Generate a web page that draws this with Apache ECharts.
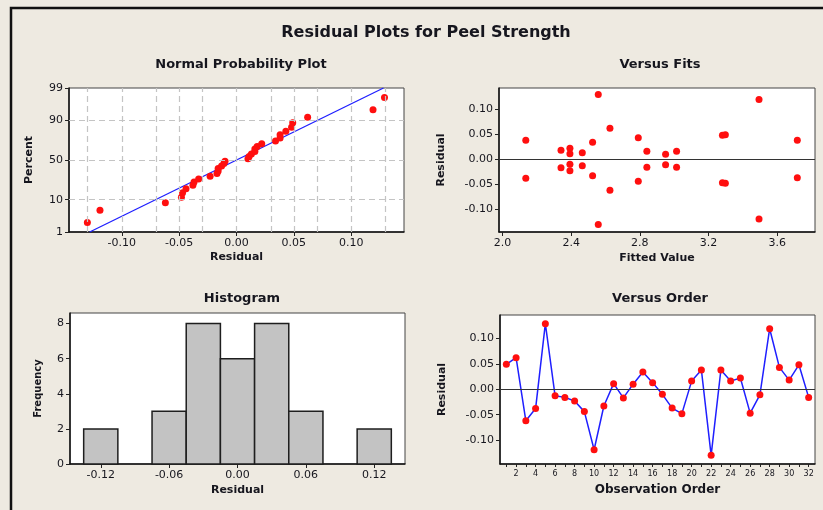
<!DOCTYPE html>
<html>
<head>
<meta charset="utf-8">
<title>Residual Plots for Peel Strength</title>
<script src="https://cdn.jsdelivr.net/npm/echarts@6.0.0/dist/echarts.min.js"></script>
<style>
  html, body { margin: 0; padding: 0; background: #eeeae1; }
  #chart { width: 823px; height: 510px; }
</style>
</head>
<body>
<div id="chart"></div>
<script>
const observations = [1, 2, 3, 4, 5, 6, 7, 8, 9, 10, 11, 12, 13, 14, 15, 16,
  17, 18, 19, 20, 21, 22, 23, 24, 25, 26, 27, 28, 29, 30, 31, 32]
const residuals = [0.049, 0.062, -0.062, -0.038, 0.129, -0.013, -0.016, -0.023,
  -0.044, -0.119, -0.033, 0.011, -0.017, 0.010, 0.034, 0.013,
  -0.010, -0.037, -0.048, 0.016, 0.038, -0.130, 0.038, 0.016,
  0.022, -0.047, -0.011, 0.119, 0.043, 0.018, 0.048, -0.016]
// fitted value of each observation (from the "Versus Fits" panel)
const fittedValues = [3.298, 2.626, 2.626, 2.136, 2.558, 2.465, 3.014, 2.393,
  2.791, 3.494, 2.525, 2.393, 2.341, 2.950, 2.525, 2.465,
  2.393, 3.717, 3.298, 2.841, 2.136, 2.558, 3.717, 3.014,
  2.393, 3.281, 2.950, 3.494, 2.791, 2.341, 3.281, 2.841]

// histogram bins
const histCenters = [-0.12, -0.09, -0.06, -0.03, 0.00, 0.03, 0.06, 0.09, 0.12]
const histCounts = [2, 0, 3, 8, 6, 8, 3, 0, 2]

// tick labels
const percentTicks = [1, 10, 50, 90, 99]
const residTicks = [-0.10, -0.05, 0.00, 0.05, 0.10]
const residGridLines = [-0.125, -0.10, -0.075, -0.05, -0.025, 0, 0.025, 0.05, 0.075, 0.10, 0.125]
const fitTicks = [2.0, 2.4, 2.8, 3.2, 3.6]
const histXTicks = [-0.12, -0.06, 0.00, 0.06, 0.12]
const orderTicks = [2, 4, 6, 8, 10, 12, 14, 16, 18, 20, 22, 24, 26, 28, 30, 32]

// inverse normal cdf (Acklam) for the probability scale
function probit(p) {
  const a = [-39.69683028665376, 220.9460984245205, -275.9285104469687, 138.3577518672690, -30.66479806614716, 2.506628277459239]
  const b = [-54.47609879822406, 161.5858368580409, -155.6989798598866, 66.80131188771972, -13.28068155833025]
  const c = [-0.007784894002430293, -0.3223964580411365, -2.400758277161838, -2.549732539343734, 4.374664141464968, 2.938163982698783]
  const d = [0.007784695709041462, 0.3224671290700398, 2.445134137142996, 3.754408661907416]
  const pl = 0.02425
  let q, r
  if (p < pl) {
    q = Math.sqrt(-2 * Math.log(p))
    return (((((c[0]*q+c[1])*q+c[2])*q+c[3])*q+c[4])*q+c[5]) / ((((d[0]*q+d[1])*q+d[2])*q+d[3])*q+1)
  }
  if (p > 1 - pl) {
    q = Math.sqrt(-2 * Math.log(1 - p))
    return -(((((c[0]*q+c[1])*q+c[2])*q+c[3])*q+c[4])*q+c[5]) / ((((d[0]*q+d[1])*q+d[2])*q+d[3])*q+1)
  }
  q = p - 0.5
  r = q * q
  return (((((a[0]*r+a[1])*r+a[2])*r+a[3])*r+a[4])*r+a[5])*q / (((((b[0]*r+b[1])*r+b[2])*r+b[3])*r+b[4])*r+1)
}

const n = residuals.length
const sorted = residuals.slice().sort((x, y) => x - y)
const probPoints = sorted.map((r, i) => [r, probit((i + 1 - 0.3) / (n + 0.4))])
const mean = residuals.reduce((s, v) => s + v, 0) / n
const sd = Math.sqrt(residuals.reduce((s, v) => s + (v - mean) ** 2, 0) / (n - 1))
const zTicks = percentTicks.map(p => probit(p / 100))
const zMin = zTicks[0], zMax = zTicks[zTicks.length - 1]
const fitLine = [[mean + sd * zMin, zMin], [mean + sd * zMax, zMax]]
const binWidth = histCenters[1] - histCenters[0]

const FONT = 'DejaVu Sans'
const TXT = '#16161e'

function axisBase(extra) {
  return Object.assign({
    type: 'value',
    nameLocation: 'middle',
    nameTextStyle: { fontFamily: FONT, fontWeight: 'bold', fontSize: 11, color: TXT },
    axisLine: { show: true, onZero: false, lineStyle: { color: '#111', width: 1.5 } },
    axisTick: { show: true, inside: false, length: 4, lineStyle: { color: '#222' } },
    axisLabel: { fontFamily: FONT, fontSize: 11, color: TXT, margin: 6 },
    splitLine: { show: false }
  }, extra)
}

function ticksOf(values, fmt, extraLabel) {
  return {
    axisTick: { show: true, inside: false, length: 4, customValues: values, lineStyle: { color: '#222' } },
    axisLabel: Object.assign({ fontFamily: FONT, fontSize: 11, color: TXT, margin: 6,
      customValues: values, formatter: fmt }, extraLabel || {})
  }
}

const myChart = echarts.init(document.getElementById('chart'))

const gridStyle = { show: true, backgroundColor: '#ffffff', borderColor: '#444', borderWidth: 1 }
const dashed = { color: '#c4c4c4', type: [6, 4], width: 1.2 }
const redDot = { color: '#ff0f0f', opacity: 1 }

const option = {
  backgroundColor: '#eeeae1',
  animation: false,
  title: [
    { text: 'Residual Plots for Peel Strength', left: 421, top: 20, textAlign: 'center',
      textStyle: { fontFamily: FONT, fontSize: 16, fontWeight: 'bold', color: TXT } },
    { text: 'Normal Probability Plot', left: 236, top: 53, textAlign: 'center',
      textStyle: { fontFamily: FONT, fontSize: 13, fontWeight: 'bold', color: TXT } },
    { text: 'Versus Fits', left: 655, top: 53, textAlign: 'center',
      textStyle: { fontFamily: FONT, fontSize: 13, fontWeight: 'bold', color: TXT } },
    { text: 'Histogram', left: 237, top: 287, textAlign: 'center',
      textStyle: { fontFamily: FONT, fontSize: 13, fontWeight: 'bold', color: TXT } },
    { text: 'Versus Order', left: 655, top: 287, textAlign: 'center',
      textStyle: { fontFamily: FONT, fontSize: 13, fontWeight: 'bold', color: TXT } }
  ],
  graphic: [
    { type: 'rect', shape: { x: 11, y: 8, width: 900, height: 600 },
      style: { fill: 'none', stroke: '#111', lineWidth: 2.5 }, z: 100 }
  ],
  grid: [
    Object.assign({ left: 69, top: 88, width: 335, height: 144 }, gridStyle),
    Object.assign({ left: 499, top: 88, width: 316, height: 144 }, gridStyle),
    Object.assign({ left: 70, top: 313, width: 335, height: 151 }, gridStyle),
    Object.assign({ left: 500, top: 315, width: 315, height: 149 }, gridStyle)
  ],
  xAxis: [
    axisBase(Object.assign({ gridIndex: 0, min: -0.146, max: 0.146, name: 'Residual', nameGap: 20 },
      ticksOf(residTicks, v => v.toFixed(2)))),
    axisBase(Object.assign({ gridIndex: 1, min: 1.98, max: 3.82, name: 'Fitted Value', nameGap: 21 },
      ticksOf(fitTicks, v => v.toFixed(1)))),
    axisBase(Object.assign({ gridIndex: 2, min: -0.147, max: 0.147, name: 'Residual', nameGap: 21 },
      ticksOf(histXTicks, v => v.toFixed(2)))),
    axisBase(Object.assign({ gridIndex: 3, min: 0.35, max: 32.65, name: 'Observation Order', nameGap: 20,
      nameTextStyle: { fontFamily: FONT, fontWeight: 'bold', fontSize: 12, color: TXT },
      axisTick: { show: true, inside: false, length: 3, customValues: observations, lineStyle: { color: '#222' } },
      axisLabel: { fontFamily: FONT, fontSize: 8, color: TXT, margin: 6, customValues: orderTicks } }))
  ],
  yAxis: [
    axisBase(Object.assign({ gridIndex: 0, min: zMin, max: zMax, name: 'Percent', nameGap: 34 },
      ticksOf(zTicks, v => {
        const i = zTicks.findIndex(z => Math.abs(z - v) < 1e-6)
        return i < 0 ? '' : String(percentTicks[i])
      }))),
    axisBase(Object.assign({ gridIndex: 1, min: -0.145, max: 0.142, name: 'Residual', nameGap: 52 },
      ticksOf(residTicks, v => v.toFixed(2)))),
    axisBase({ gridIndex: 2, min: 0, max: 8.6, interval: 2, name: 'Frequency', nameGap: 27,
      nameTextStyle: { fontFamily: FONT, fontWeight: 'bold', fontSize: 10, color: TXT } }),
    axisBase(Object.assign({ gridIndex: 3, min: -0.147, max: 0.146, name: 'Residual', nameGap: 52 },
      ticksOf(residTicks, v => v.toFixed(2))))
  ],
  series: [
    // dashed reference grid of the probability plot
    {
      type: 'line', xAxisIndex: 0, yAxisIndex: 0, data: [], z: 1, silent: true,
      markLine: {
        silent: true, symbol: 'none', label: { show: false }, lineStyle: dashed,
        data: residGridLines.map(v => ({ xAxis: v }))
          .concat(zTicks.slice(1, -1).map(v => ({ yAxis: v })))
      }
    },
    {
      name: 'fit', type: 'line', xAxisIndex: 0, yAxisIndex: 0, data: fitLine, z: 2,
      symbol: 'none', lineStyle: { color: '#1f1fff', width: 1.3 }, silent: true
    },
    {
      name: 'prob', type: 'scatter', xAxisIndex: 0, yAxisIndex: 0, data: probPoints, z: 3,
      symbol: 'circle', symbolSize: 7, itemStyle: redDot
    },
    {
      name: 'fits', type: 'scatter', xAxisIndex: 1, yAxisIndex: 1, z: 3,
      data: fittedValues.map((f, i) => [f, residuals[i]]),
      symbol: 'circle', symbolSize: 7, itemStyle: redDot,
      markLine: { silent: true, symbol: 'none', label: { show: false },
        lineStyle: { color: '#333', type: 'solid', width: 1 }, data: [{ yAxis: 0 }] }
    },
    {
      name: 'hist', type: 'custom', xAxisIndex: 2, yAxisIndex: 2,
      data: histCenters.map((c, i) => [c, histCounts[i]]),
      renderItem: (params, api) => {
        const c = api.value(0), cnt = api.value(1)
        if (!cnt) return null
        const p0 = api.coord([c - binWidth / 2, cnt])
        const p1 = api.coord([c + binWidth / 2, 0])
        return {
          type: 'rect',
          shape: { x: p0[0], y: p0[1], width: p1[0] - p0[0], height: p1[1] - p0[1] },
          style: { fill: '#c3c3c3', stroke: '#1e1e1e', lineWidth: 1.5 }
        }
      }
    },
    {
      name: 'order', type: 'line', xAxisIndex: 3, yAxisIndex: 3, z: 3,
      data: observations.map((o, i) => [o, residuals[i]]),
      symbol: 'circle', symbolSize: 7, showSymbol: true,
      itemStyle: redDot,
      lineStyle: { color: '#1f1fff', width: 1.5 },
      markLine: { silent: true, symbol: 'none', label: { show: false },
        lineStyle: { color: '#333', type: 'solid', width: 1 }, data: [{ yAxis: 0 }] }
    }
  ]
}

myChart.setOption(option)
</script>
</body>
</html>
